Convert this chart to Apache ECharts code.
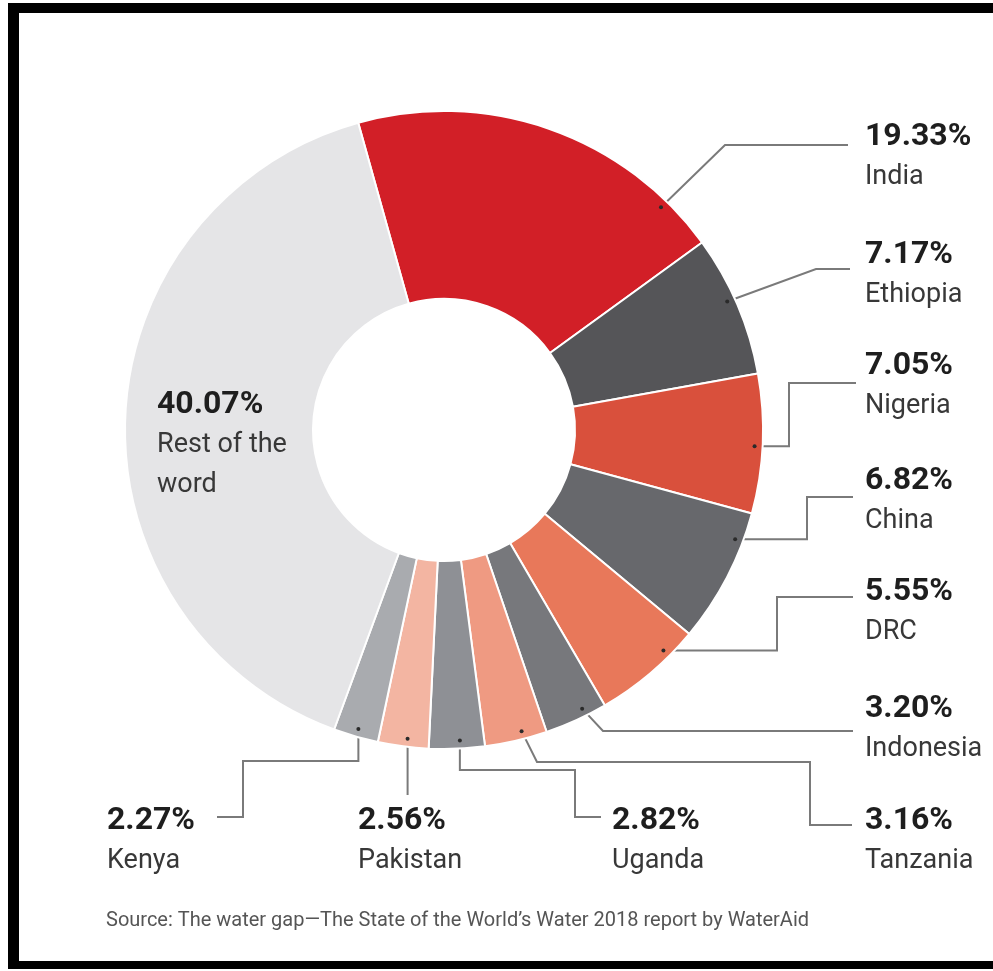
<!DOCTYPE html>
<html>
<head>
<meta charset="utf-8">
<script src="https://cdn.jsdelivr.net/npm/echarts@6/dist/echarts.min.js"></script>
<style>
  html, body { margin: 0; padding: 0; background: #fff; }
  #chart { width: 993px; height: 971px; }
</style>
</head>
<body>
<div id="chart"></div>
<script>
// Share of people without access to clean water, by country (%)
const countries = ['India', 'Ethiopia', 'Nigeria', 'China', 'DRC', 'Indonesia',
                   'Tanzania', 'Uganda', 'Pakistan', 'Kenya', 'Rest of the\nword'];
const shares = [19.33, 7.17, 7.05, 6.82, 5.55, 3.20, 3.16, 2.82, 2.56, 2.27, 40.07];
const sliceColors = ['#d21f27', '#555558', '#d9503c', '#67686c', '#e8785a', '#77787c',
                     '#ef9a82', '#8e9095', '#f3b5a2', '#a9abaf', '#e5e5e7'];
const sourceNote = 'Source: The water gap\u2014The State of the World\u2019s Water 2018 report by WaterAid';

const FONT = 'Roboto, "Liberation Sans", sans-serif';

// Ring geometry (pixels / degrees)
const RING = { cx: 444, cy: 430, r: 319, r0: 131, start: 105.6 };

// Label block placement (top-left), where along its slice the leader starts (0..1),
// and the leader route: ['h', x] horizontal run, ['v', y] vertical run, ['p', x, y] straight to a point
const labelSpots = [
  { x: 865, y: 117, at: 0.86, route: [['p', 725, 145], ['h', 848]] },
  { x: 865, y: 235, at: 0.45, route: [['p', 816, 269], ['h', 850]] },
  { x: 865, y: 346, at: 0.52, route: [['h', 789], ['v', 383], ['h', 856]] },
  { x: 865, y: 461, at: 0.22, route: [['h', 807], ['v', 497], ['h', 853]] },
  { x: 865, y: 572, at: 0.27, route: [['h', 777], ['v', 597], ['h', 853]] },
  { x: 865, y: 689, at: 0.34, route: [['p', 603, 731], ['h', 853]] },
  { x: 865, y: 801, at: 0.38, route: [['p', 537, 762], ['h', 810], ['v', 825], ['h', 852]] },
  { x: 612, y: 801, at: 0.44, route: [['v', 770], ['h', 575], ['v', 817], ['h', 601]] },
  { x: 358, y: 801, at: 0.43, route: [['v', 795]] },
  { x: 107, y: 801, at: 0.49, route: [['v', 761], ['h', 243], ['v', 817], ['h', 217]] },
  { x: 157, y: 385 }
];

const total = shares.reduce((a, b) => a + b, 0);

function leaderPoints(i) {
  const spot = labelSpots[i];
  let before = 0;
  for (let k = 0; k < i; k++) before += shares[k];
  const a0 = RING.start - before / total * 360;
  const a1 = a0 - shares[i] / total * 360;
  const a = (a0 + (a1 - a0) * spot.at) * Math.PI / 180;
  const rr = RING.r - 8;
  const pts = [[RING.cx + rr * Math.cos(a), RING.cy - rr * Math.sin(a)]];
  spot.route.forEach(s => {
    const last = pts[pts.length - 1];
    if (s[0] === 'h') pts.push([s[1], last[1]]);
    else if (s[0] === 'v') pts.push([last[0], s[1]]);
    else pts.push([s[1], s[2]]);
  });
  return pts;
}

// small dots where each leader meets its slice
const anchorDots = labelSpots
  .map((s, i) => s.route ? leaderPoints(i)[0] : null)
  .filter(Boolean)
  .map(pt => ({
    type: 'circle', z: 100, silent: true,
    shape: { cx: pt[0], cy: pt[1], r: 2 },
    style: { fill: '#2a2a2a' }
  }));

const chart = echarts.init(document.getElementById('chart'), null, { renderer: 'canvas' });

chart.setOption({
  backgroundColor: '#ffffff',
  animation: false,
  graphic: [
    // frame
    { type: 'rect', shape: { x: 8, y: 3, width: 985, height: 10 }, style: { fill: '#000' } },
    { type: 'rect', shape: { x: 8, y: 3, width: 11, height: 966 }, style: { fill: '#000' } },
    { type: 'rect', shape: { x: 8, y: 961, width: 985, height: 8 }, style: { fill: '#000' } },
    {
      type: 'text', left: 106, top: 911,
      style: { text: sourceNote, font: '20px ' + FONT, fill: '#555' }
    }
  ].concat(anchorDots),
  series: [{
    type: 'pie',
    center: [RING.cx, RING.cy],
    radius: [RING.r0, RING.r],
    startAngle: RING.start,
    clockwise: true,
    avoidLabelOverlap: false,
    silent: true,
    itemStyle: { borderColor: '#ffffff', borderWidth: 2 },
    label: {
      show: true,
      position: 'outside',
      formatter: p => '{v|' + p.value.toFixed(2) + '%}\n' +
        p.name.split('\n').map(s => '{n|' + s + '}').join('\n'),
      rich: {
        v: { fontFamily: FONT, fontWeight: 'bold', fontSize: 32, lineHeight: 40, color: '#1e1e1e' },
        n: { fontFamily: FONT, fontSize: 27, lineHeight: 40, color: '#383838' }
      }
    },
    labelLine: { show: true, smooth: false, lineStyle: { color: '#7a7a7a', width: 2 } },
    labelLayout: p => {
      const spot = labelSpots[p.dataIndex];
      const out = { x: spot.x, y: spot.y, align: 'left', verticalAlign: 'top' };
      if (spot.route) out.labelLinePoints = leaderPoints(p.dataIndex);
      return out;
    },
    data: countries.map((name, i) => ({
      name: name,
      value: shares[i],
      itemStyle: { color: sliceColors[i] },
      labelLine: { show: !!labelSpots[i].route }
    }))
  }]
});
</script>
</body>
</html>
